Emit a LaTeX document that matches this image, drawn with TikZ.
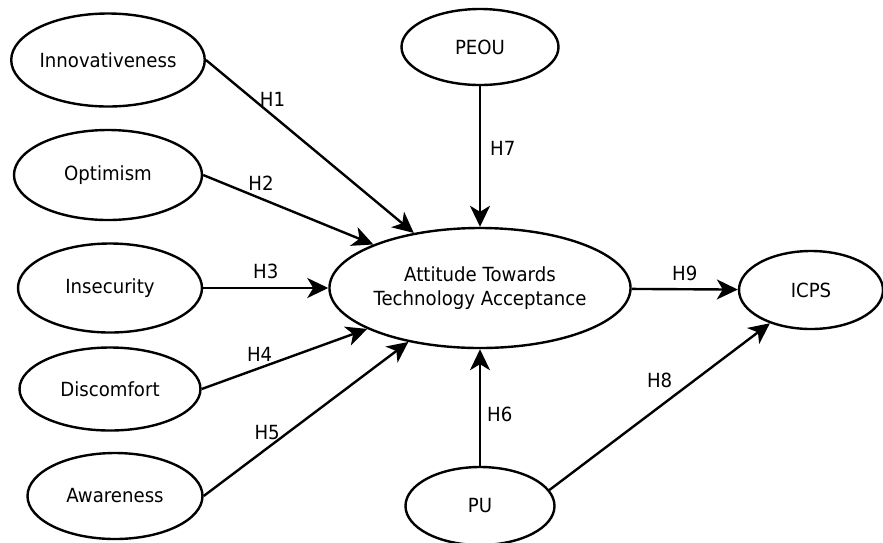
\documentclass[tikz,border=0pt]{standalone}
\usepackage{fontspec}
\setmainfont{DejaVu Sans}[FakeStretch=0.93]
\usepackage{tikz}
\usetikzlibrary{shapes.geometric,arrows.meta}
\tikzstyle{latent} = [ellipse, draw, line width=2.4pt, inner sep=0pt,
align=center, font=\fontsize{19.5}{24.5}\selectfont]
\tikzstyle{hyp} = [draw, line width=2.4pt, -{Stealth[length=21pt,width=20pt,inset=6pt]}]
\tikzstyle{hlabel} = [inner sep=0pt, font=\fontsize{19.5}{24.5}\selectfont]

\begin{document}
\begin{tikzpicture}
    \useasboundingbox (0,0) rectangle (883pt,-542pt);
    % Nodes
    \node [latent, minimum width=296pt, minimum height=120pt] (att) at (480pt,-288pt) {Attitude Towards\\Technology Acceptance};
    \node [latent, node distance=241pt, above of=att, minimum width=157pt, minimum height=76pt] (peou) {PEOU};
    \node [latent, node distance=218pt, below of=att, minimum width=149pt, minimum height=78pt] (pu) {PU};
    \node [latent, node distance=331pt, right of=att, yshift=-2pt, minimum width=144pt, minimum height=78pt] (icps) {ICPS};

    \node [latent, node distance=370pt, left of=att, minimum width=184pt, minimum height=89pt] (ins) {Insecurity};
    \node [latent, node distance=113pt, above of=ins, xshift=-2pt, minimum width=188pt, minimum height=90pt] (opt) {Optimism};
    \node [latent, node distance=115pt, above of=opt, minimum width=187pt, minimum height=93pt] (inn) {Innovativeness};
    \node [latent, node distance=101pt, below of=ins, minimum width=181pt, minimum height=83pt] (dis) {Discomfort};
    \node [latent, node distance=107pt, below of=dis, xshift=5pt, minimum width=175pt, minimum height=86pt] (aw) {Awareness};

    % arrows
    \draw [hyp] (inn.east) -- node[hlabel, pos=0.32, above=8pt] {H1} (att);
    \draw [hyp] (opt.east) -- node[hlabel, pos=0.34, above=7pt] {H2} (att);
    \draw [hyp] (ins.east) -- node[hlabel, pos=0.5, above=8pt] {H3} (att);
    \draw [hyp] (dis.east) -- node[hlabel, pos=0.35, above=5pt] {H4} (att);
    \draw [hyp] (aw.east) -- node[hlabel, pos=0.31, above=7pt] {H5} (att);

    \draw [hyp] (pu) -- node[hlabel, pos=0.44, right=6pt] {H6} (att);
    \draw [hyp] (peou) -- node[hlabel, pos=0.44, right=9pt] {H7} (att);
    \draw [hyp] (pu.13) -- node[hlabel, pos=0.5, above=18pt] {H8} (icps.219);
    \draw [hyp] (att) -- node[hlabel, pos=0.5, above=7pt] {H9} (icps);
\end{tikzpicture}
\end{document}
